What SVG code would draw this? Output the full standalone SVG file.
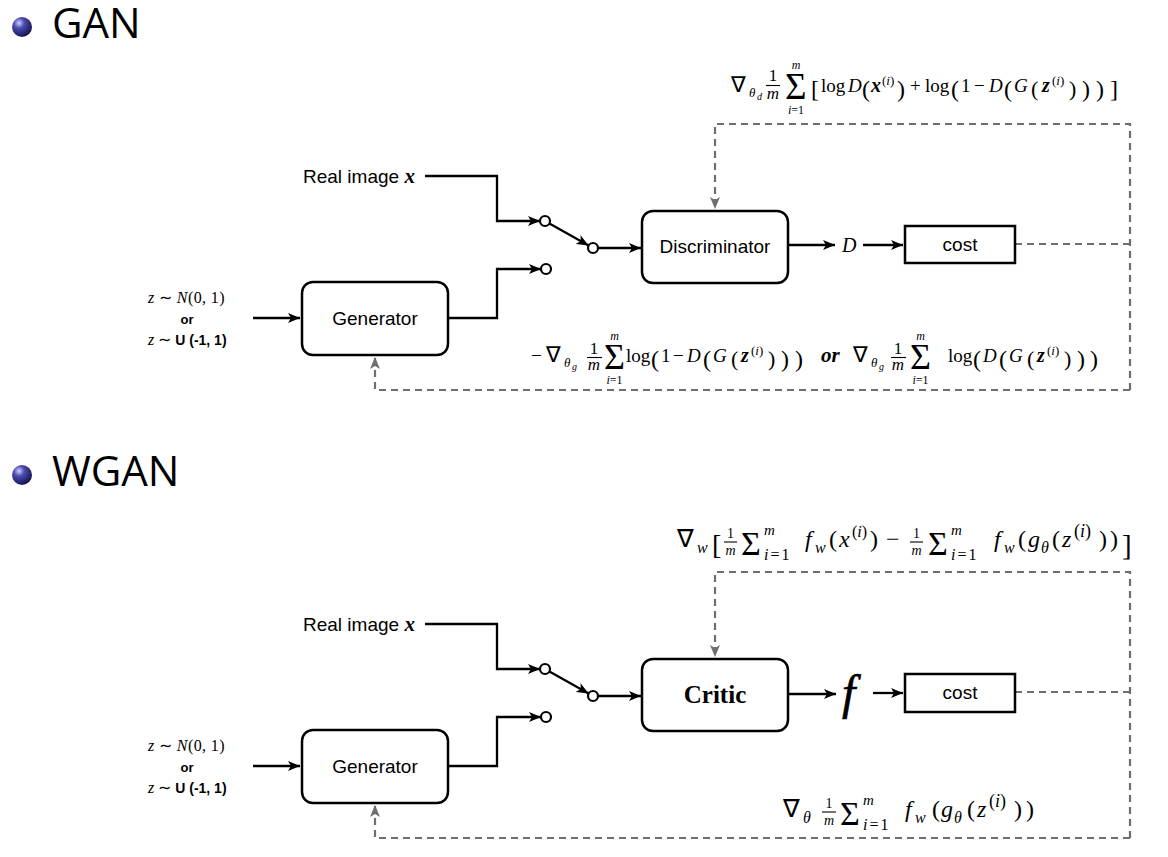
<svg xmlns="http://www.w3.org/2000/svg" width="1168" height="857" viewBox="0 0 1168 857">
<style>
.bg{fill:#fff}
.title{font-family:"Open Sans","Noto Sans",sans-serif;font-size:42px;fill:#000}
.lbl{font-family:"Liberation Sans",Arial,sans-serif;font-size:19px;fill:#000}
.m{font-family:"Liberation Serif","Times New Roman",serif;fill:#000}
.i{font-style:italic}
.bi{font-style:italic;font-weight:bold}
.box{fill:#fff;stroke:#000;stroke-width:2.5}
.ln{fill:none;stroke:#000;stroke-width:2.3}
.dash{fill:none;stroke:#6e6e6e;stroke-width:2.2;stroke-dasharray:7 5}
.sw{fill:#fff;stroke:#000;stroke-width:2.2}
.bar{stroke:#000;stroke-width:1.1}
</style>
<defs>
<radialGradient id="ball" cx="0.35" cy="0.3" r="0.75">
<stop offset="0" stop-color="#d0d0ff"/>
<stop offset="0.35" stop-color="#4c4cb0"/>
<stop offset="1" stop-color="#10104a"/>
</radialGradient>
<marker id="ah" viewBox="0 0 12 10" refX="12" refY="5" markerWidth="12" markerHeight="10" markerUnits="userSpaceOnUse" orient="auto">
<path d="M0,0 L12,5 L0,10 L3,5 z" fill="#000"/>
</marker>
<marker id="ahg" viewBox="0 0 12 10" refX="12" refY="5" markerWidth="12" markerHeight="10" markerUnits="userSpaceOnUse" orient="auto">
<path d="M0,0 L12,5 L0,10 L3,5 z" fill="#6e6e6e"/>
</marker>
</defs>
<rect class="bg" x="0" y="0" width="1168" height="857"/>

<!-- Titles -->
<g id="title-gan">
<circle cx="22" cy="27" r="10" fill="url(#ball)"/>
<text class="title" x="52" y="38">GAN</text>
</g>
<g id="title-wgan">
<circle cx="22" cy="475" r="10" fill="url(#ball)"/>
<text class="title" x="52" y="486">WGAN</text>
</g>

<!-- Connectors -->
<g id="connectors">
<!-- GAN -->
<path class="ln" d="M425,176 H497 V221 H540" marker-end="url(#ah)"/>
<path class="ln" d="M448,318 H497 V269 H541" marker-end="url(#ah)"/>
<path class="ln" d="M549.4,223.5 L588.6,245.5" marker-end="url(#ah)"/>
<path class="ln" d="M598,248 H641" marker-end="url(#ah)"/>
<path class="ln" d="M253,318 H300" marker-end="url(#ah)"/>
<path class="ln" d="M788,245 H835" marker-end="url(#ah)"/>
<path class="ln" d="M863,245 H903" marker-end="url(#ah)"/>
<path class="dash" d="M1015,244 H1130"/>
<path class="dash" d="M1130,390 V124 H715 V209" marker-end="url(#ahg)"/>
<path class="dash" d="M1130,390 H375 V357" marker-end="url(#ahg)"/>
<!-- WGAN -->
<path class="ln" d="M425,624 H497 V669 H540" marker-end="url(#ah)"/>
<path class="ln" d="M448,766 H497 V717 H541" marker-end="url(#ah)"/>
<path class="ln" d="M549.4,671.5 L588.6,693.5" marker-end="url(#ah)"/>
<path class="ln" d="M598,696 H641" marker-end="url(#ah)"/>
<path class="ln" d="M253,766 H300" marker-end="url(#ah)"/>
<path class="ln" d="M788,694 H836" marker-end="url(#ah)"/>
<path class="ln" d="M873,693 H903" marker-end="url(#ah)"/>
<path class="dash" d="M1015,692 H1130"/>
<path class="dash" d="M1130,838 V572 H715 V657" marker-end="url(#ahg)"/>
<path class="dash" d="M1130,838 H375 V805" marker-end="url(#ahg)"/>
</g>

<!-- GAN nodes -->
<g id="gan-real">
<text class="lbl" x="303" y="183">Real image <tspan class="m bi" font-size="21">x</tspan></text>
</g>
<g id="gan-switch">
<circle class="sw" cx="545" cy="221" r="5"/>
<circle class="sw" cx="593" cy="248" r="5"/>
<circle class="sw" cx="546" cy="269" r="5"/>
</g>
<g id="gan-noise">
<text class="m" x="148" y="303" font-size="16" letter-spacing="0.4"><tspan class="i">z</tspan> ∼ <tspan class="i">N</tspan>(0, 1)</text>
<text class="lbl" x="187" y="324" text-anchor="middle" font-weight="bold" style="font-size:13px">or</text>
<text class="m" x="148" y="345" font-size="16"><tspan class="i">z</tspan> ∼ <tspan font-family="Liberation Sans, Arial, sans-serif" font-weight="bold" font-size="14">U (-1, 1)</tspan></text>
</g>
<g id="gan-generator">
<rect class="box" x="302" y="282" width="146" height="73" rx="11"/>
<text class="lbl" x="375" y="325" text-anchor="middle">Generator</text>
</g>
<g id="gan-discriminator">
<rect class="box" x="642" y="211" width="146" height="72" rx="11"/>
<text class="lbl" x="715" y="253" text-anchor="middle">Discriminator</text>
</g>
<g id="gan-D">
<text class="m i" x="842" y="252" font-size="20">D</text>
</g>
<g id="gan-cost">
<rect class="box" x="905" y="226" width="110" height="37"/>
<text class="lbl" x="960" y="251" text-anchor="middle">cost</text>
</g>

<!-- GAN top formula -->
<g id="gan-formula-d">
<text class="m" x="731" y="92" font-size="22">∇</text>
<text class="m i" x="749" y="97" font-size="13">θ</text>
<text class="m i" x="757" y="100" font-size="10">d</text>
<text class="m" x="773" y="81" font-size="17" text-anchor="middle">1</text>
<line class="bar" x1="766" y1="85.5" x2="780" y2="85.5"/>
<text class="m i" x="773" y="99" font-size="17" text-anchor="middle">m</text>
<text class="m" x="785" y="99" font-size="37">Σ</text>
<text class="m i" x="796" y="69" font-size="12" text-anchor="middle">m</text>
<text class="m" x="796" y="114" font-size="12" text-anchor="middle"><tspan class="i">i</tspan>=1</text>
<text class="m" x="811" y="97" font-size="24">[</text>
<text class="m" x="821" y="92" font-size="19">log</text>
<text class="m i" x="848" y="92" font-size="19">D</text>
<text class="m" x="862" y="97" font-size="24">(</text>
<text class="m bi" x="871" y="92" font-size="20">x</text>
<text class="m" x="882" y="85" font-size="13">(<tspan class="i">i</tspan>)</text>
<text class="m" x="897" y="97" font-size="24">)</text>
<text class="m" x="910" y="92" font-size="19">+</text>
<text class="m" x="925" y="92" font-size="19">log</text>
<text class="m" x="951" y="97" font-size="24">(</text>
<text class="m" x="961" y="92" font-size="19">1</text>
<text class="m" x="974" y="92" font-size="19">−</text>
<text class="m i" x="989" y="92" font-size="19">D</text>
<text class="m" x="1004" y="97" font-size="24">(</text>
<text class="m i" x="1014" y="92" font-size="19">G</text>
<text class="m" x="1031" y="96" font-size="22">(</text>
<text class="m bi" x="1042" y="92" font-size="20">z</text>
<text class="m" x="1052" y="85" font-size="13">(<tspan class="i">i</tspan>)</text>
<text class="m" x="1069" y="96" font-size="22">)</text>
<text class="m" x="1082" y="97" font-size="24">)</text>
<text class="m" x="1096" y="97" font-size="24">)</text>
<text class="m" x="1110" y="97" font-size="24">]</text>
</g>

<!-- GAN bottom formula -->
<g id="gan-formula-g">
<text class="m" x="531" y="362" font-size="19">−</text>
<text class="m" x="546" y="362" font-size="22">∇</text>
<text class="m i" x="564" y="367" font-size="13">θ</text>
<text class="m i" x="572" y="370" font-size="10">g</text>
<text class="m" x="594" y="354" font-size="17" text-anchor="middle">1</text>
<line class="bar" x1="587" y1="357.5" x2="602" y2="357.5"/>
<text class="m i" x="594" y="370" font-size="17" text-anchor="middle">m</text>
<text class="m" x="604" y="369" font-size="36">Σ</text>
<text class="m i" x="614.5" y="340" font-size="12" text-anchor="middle">m</text>
<text class="m" x="614.5" y="384" font-size="12" text-anchor="middle"><tspan class="i">i</tspan>=1</text>
<text class="m" x="626" y="362" font-size="19">log</text>
<text class="m" x="651" y="367" font-size="24">(</text>
<text class="m" x="661" y="362" font-size="19">1</text>
<text class="m" x="673" y="362" font-size="19">−</text>
<text class="m i" x="687" y="362" font-size="19">D</text>
<text class="m" x="703" y="367" font-size="24">(</text>
<text class="m i" x="713" y="362" font-size="19">G</text>
<text class="m" x="731" y="366" font-size="22">(</text>
<text class="m bi" x="741" y="362" font-size="20">z</text>
<text class="m" x="751" y="355" font-size="13">(<tspan class="i">i</tspan>)</text>
<text class="m" x="768" y="366" font-size="22">)</text>
<text class="m" x="781" y="367" font-size="24">)</text>
<text class="m" x="795" y="367" font-size="24">)</text>
<text class="m bi" x="821" y="362" font-size="21">or</text>
<text class="m" x="853" y="362" font-size="22">∇</text>
<text class="m i" x="871" y="367" font-size="13">θ</text>
<text class="m i" x="879" y="370" font-size="10">g</text>
<text class="m" x="898" y="354" font-size="17" text-anchor="middle">1</text>
<line class="bar" x1="891" y1="357.5" x2="906" y2="357.5"/>
<text class="m i" x="898" y="370" font-size="17" text-anchor="middle">m</text>
<text class="m" x="910" y="369" font-size="36">Σ</text>
<text class="m i" x="920.5" y="340" font-size="12" text-anchor="middle">m</text>
<text class="m" x="920.5" y="384" font-size="12" text-anchor="middle"><tspan class="i">i</tspan>=1</text>
<text class="m" x="948" y="362" font-size="19">log</text>
<text class="m" x="973" y="367" font-size="24">(</text>
<text class="m i" x="983" y="362" font-size="19">D</text>
<text class="m" x="999" y="367" font-size="24">(</text>
<text class="m i" x="1009" y="362" font-size="19">G</text>
<text class="m" x="1027" y="366" font-size="22">(</text>
<text class="m bi" x="1037" y="362" font-size="20">z</text>
<text class="m" x="1047" y="355" font-size="13">(<tspan class="i">i</tspan>)</text>
<text class="m" x="1064" y="366" font-size="22">)</text>
<text class="m" x="1077" y="367" font-size="24">)</text>
<text class="m" x="1090" y="367" font-size="24">)</text>
</g>

<!-- WGAN nodes -->
<g id="wgan-real">
<text class="lbl" x="303" y="631">Real image <tspan class="m bi" font-size="21">x</tspan></text>
</g>
<g id="wgan-switch">
<circle class="sw" cx="545" cy="669" r="5"/>
<circle class="sw" cx="593" cy="696" r="5"/>
<circle class="sw" cx="546" cy="717" r="5"/>
</g>
<g id="wgan-noise">
<text class="m" x="148" y="751" font-size="16" letter-spacing="0.4"><tspan class="i">z</tspan> ∼ <tspan class="i">N</tspan>(0, 1)</text>
<text class="lbl" x="187" y="772" text-anchor="middle" font-weight="bold" style="font-size:13px">or</text>
<text class="m" x="148" y="793" font-size="16"><tspan class="i">z</tspan> ∼ <tspan font-family="Liberation Sans, Arial, sans-serif" font-weight="bold" font-size="14">U (-1, 1)</tspan></text>
</g>
<g id="wgan-generator">
<rect class="box" x="302" y="730" width="146" height="73" rx="11"/>
<text class="lbl" x="375" y="773" text-anchor="middle">Generator</text>
</g>
<g id="wgan-critic">
<rect class="box" x="642" y="659" width="146" height="72" rx="11"/>
<text class="m" x="715" y="703" font-size="25" font-weight="bold" text-anchor="middle">Critic</text>
</g>
<g id="wgan-f">
<text class="m i" x="842" y="709" font-size="48" stroke="#000" stroke-width="0.6">f</text>
</g>
<g id="wgan-cost">
<rect class="box" x="905" y="674" width="110" height="38"/>
<text class="lbl" x="960" y="699" text-anchor="middle">cost</text>
</g>

<!-- WGAN top formula -->
<g id="wgan-formula-w">
<text class="m" x="677" y="547" font-size="25">∇</text>
<text class="m i" x="697" y="553" font-size="16">w</text>
<text class="m" x="712" y="554" font-size="28">[</text>
<text class="m" x="730.5" y="538" font-size="14" text-anchor="middle">1</text>
<line class="bar" x1="724" y1="542" x2="737" y2="542"/>
<text class="m i" x="730.5" y="555" font-size="14" text-anchor="middle">m</text>
<text class="m" x="741" y="555" font-size="34">Σ</text>
<text class="m i" x="764" y="535" font-size="15">m</text>
<text class="m" x="764" y="560" font-size="16" letter-spacing="2"><tspan class="i">i</tspan>=1</text>
<text class="m i" x="805" y="547" font-size="24">f</text>
<text class="m i" x="815" y="553" font-size="16">w</text>
<text class="m" x="829" y="547" font-size="24">(</text>
<text class="m i" x="839" y="547" font-size="24">x</text>
<text class="m" x="852" y="537" font-size="16">(<tspan class="i">i</tspan>)</text>
<text class="m" x="870" y="547" font-size="24">)</text>
<text class="m" x="886" y="547" font-size="24">−</text>
<text class="m" x="916.5" y="538" font-size="14" text-anchor="middle">1</text>
<line class="bar" x1="910" y1="542" x2="923" y2="542"/>
<text class="m i" x="916.5" y="555" font-size="14" text-anchor="middle">m</text>
<text class="m" x="928" y="555" font-size="34">Σ</text>
<text class="m i" x="951" y="535" font-size="15">m</text>
<text class="m" x="951" y="560" font-size="16" letter-spacing="2"><tspan class="i">i</tspan>=1</text>
<text class="m i" x="994" y="547" font-size="24">f</text>
<text class="m i" x="1004" y="553" font-size="16">w</text>
<text class="m" x="1018" y="547" font-size="24">(</text>
<text class="m i" x="1028" y="547" font-size="24">g</text>
<text class="m i" x="1041" y="553" font-size="16">θ</text>
<text class="m" x="1052" y="547" font-size="24">(</text>
<text class="m i" x="1062" y="547" font-size="24">z</text>
<text class="m" x="1074" y="537" font-size="18">(<tspan class="i">i</tspan>)</text>
<text class="m" x="1099" y="547" font-size="24">)</text>
<text class="m" x="1110" y="547" font-size="24">)</text>
<text class="m" x="1122" y="555" font-size="29">]</text>
</g>

<!-- WGAN bottom formula -->
<g id="wgan-formula-theta">
<text class="m" x="783" y="817" font-size="25">∇</text>
<text class="m i" x="803" y="823" font-size="16">θ</text>
<text class="m" x="829" y="808" font-size="14" text-anchor="middle">1</text>
<line class="bar" x1="822" y1="812" x2="836" y2="812"/>
<text class="m i" x="829" y="825" font-size="14" text-anchor="middle">m</text>
<text class="m" x="840" y="825" font-size="34">Σ</text>
<text class="m i" x="863" y="805" font-size="15">m</text>
<text class="m" x="863" y="830" font-size="16" letter-spacing="2"><tspan class="i">i</tspan>=1</text>
<text class="m i" x="905" y="817" font-size="24">f</text>
<text class="m i" x="915" y="823" font-size="16">w</text>
<text class="m" x="932" y="817" font-size="24">(</text>
<text class="m i" x="941" y="817" font-size="24">g</text>
<text class="m i" x="954" y="823" font-size="16">θ</text>
<text class="m" x="967" y="817" font-size="24">(</text>
<text class="m i" x="977" y="817" font-size="24">z</text>
<text class="m" x="989" y="807" font-size="18">(<tspan class="i">i</tspan>)</text>
<text class="m" x="1014" y="817" font-size="24">)</text>
<text class="m" x="1026" y="817" font-size="24">)</text>
</g>
</svg>
